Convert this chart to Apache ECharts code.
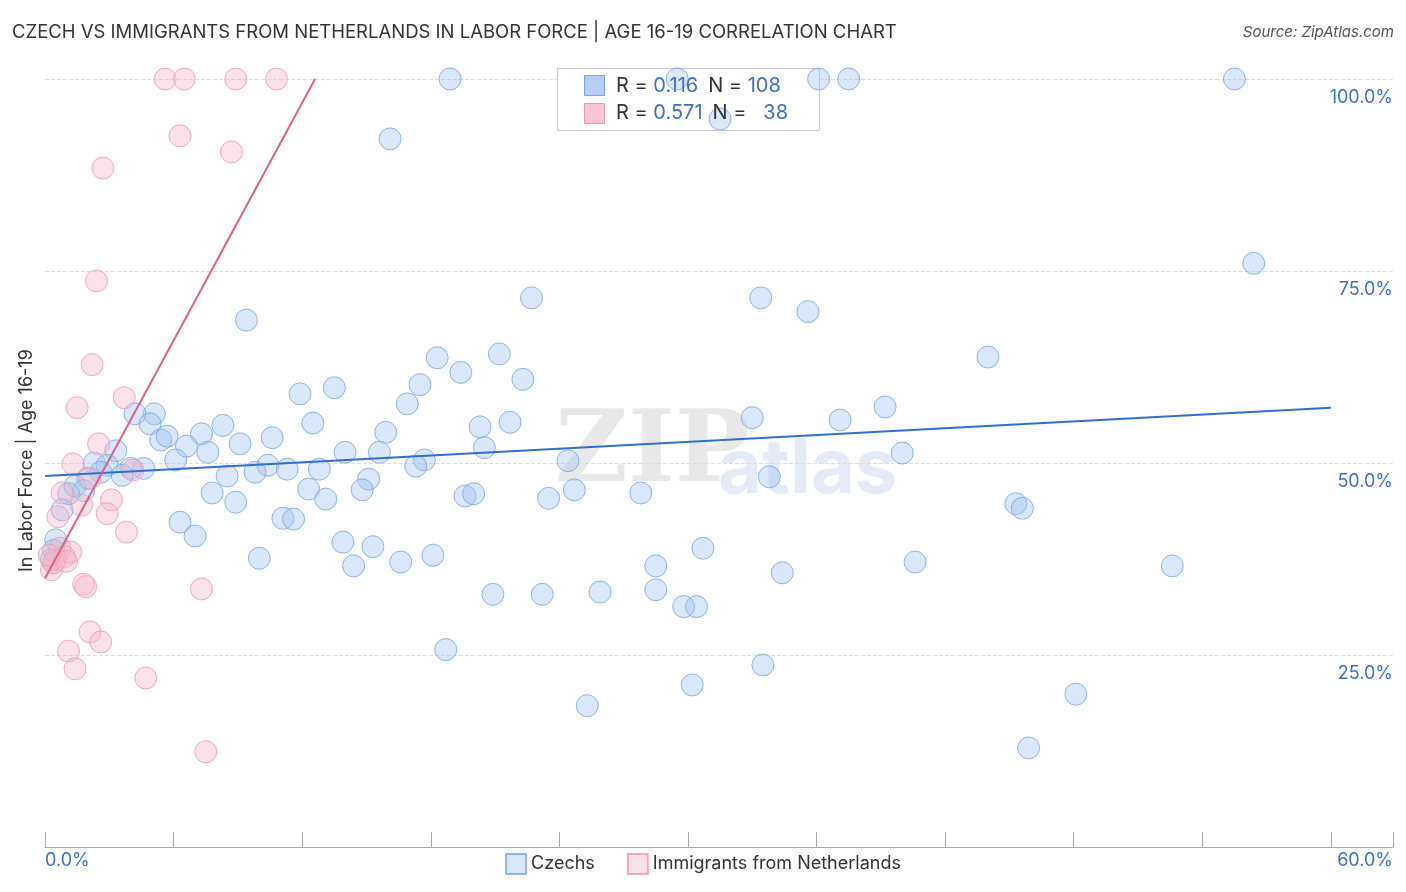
<!DOCTYPE html>
<html><head><meta charset="utf-8">
<script src="https://cdn.jsdelivr.net/npm/echarts@6/dist/echarts.min.js"></script>
<style>html,body{margin:0;padding:0;background:#fff}#chart{width:1406px;height:892px}</style>
</head><body><div id="chart"></div>
<script>
// [x %, y %]
const czechs = [
  [18.9,100],[29.5,100],[36.1,100],[37.5,100],[55.5,100],[31.5,94.8],[16.1,92.2],[56.4,76.0],
  [9.4,68.6],[22.7,71.5],[33.4,71.5],[35.6,69.7],[44.0,63.8],[18.3,63.7],[21.2,64.2],[19.4,61.8],
  [17.5,60.2],[22.3,60.9],[13.5,59.8],[11.9,59.0],[16.9,57.7],[5.1,56.4],[4.2,56.4],[4.9,55.1],
  [12.5,55.2],[8.3,54.9],[15.9,54.0],[20.3,54.7],[21.7,55.3],[33.0,55.9],[37.1,55.6],[39.2,57.3],
  [5.4,53.0],[5.7,53.5],[7.3,53.8],[10.6,53.3],[6.6,52.2],[9.1,52.5],[7.6,51.4],[14.0,51.4],
  [15.6,51.4],[20.5,52.0],[40.0,51.3],[3.3,51.6],[6.1,50.4],[2.3,50.0],[2.9,49.7],[10.4,49.7],
  [4.6,49.3],[4.0,49.3],[11.3,49.2],[12.8,49.2],[17.7,50.4],[17.3,49.6],[24.4,50.3],[2.6,48.8],
  [3.6,48.4],[2.0,48.0],[8.5,48.3],[9.8,48.8],[15.1,47.9],[33.8,48.2],[1.4,47.0],[1.8,46.4],
  [1.1,46.0],[7.8,46.1],[12.3,46.6],[24.7,46.5],[14.8,46.5],[19.6,45.7],[20.0,46.0],[23.5,45.4],
  [27.8,46.1],[13.1,45.3],[8.9,44.9],[0.8,43.9],[45.3,44.7],[45.6,44.1],[11.1,42.8],[11.6,42.7],
  [6.3,42.3],[7.0,40.5],[0.5,40.0],[13.9,39.7],[15.3,39.1],[30.7,38.9],[18.1,38.0],[10.0,37.6],
  [16.6,37.1],[14.4,36.6],[28.5,36.6],[40.6,37.1],[52.6,36.6],[0.3,37.4],[34.4,35.7],[20.9,32.9],
  [23.2,32.9],[25.9,33.2],[28.5,33.5],[29.8,31.3],[30.4,31.3],[18.7,25.7],[33.5,23.7],[30.2,21.1],
  [48.1,19.9],[25.3,18.4],[45.9,12.9],[0.4,38.6]
];
const immigrants = [
  [5.6,100],[6.5,100],[8.9,100],[10.8,100],[6.3,92.6],[8.7,90.5],[2.7,88.4],[2.4,73.7],
  [2.2,62.8],[3.7,58.5],[1.5,57.2],[2.5,52.5],[1.3,49.9],[4.1,49.1],[2.1,48.0],[0.8,46.1],
  [3.1,45.2],[1.7,44.5],[2.9,43.4],[0.6,43.0],[3.8,41.0],[0.7,38.9],[1.2,38.4],[0.5,37.4],
  [0.9,37.8],[0.3,36.1],[1.8,34.2],[1.9,33.9],[7.3,33.6],[2.1,28.0],[2.6,26.7],[1.1,25.5],
  [1.4,23.2],[4.7,22.0],[7.5,12.4],[0.4,37.0],[1.0,37.2],[0.2,38.0]
];
const czechTrend = [[0,48.3],[60,57.2]];
const immTrend = [[0,35.0],[12.6,100]];
const yTicks = [25,50,75,100];

const blue = '#3d72c8';
const chart = echarts.init(document.getElementById('chart'));
chart.setOption({
  animation: false,
  grid: {left: 45, right: 13, top: 79, bottom: 45},
  xAxis: {
    type: 'value', min: 0, max: 62.9, interval: 6,
    axisLine: {lineStyle: {color: '#aaa'}},
    axisTick: {inside: true, length: 15, lineStyle: {color: '#aaa'}},
    axisLabel: {show: false},
    splitLine: {show: false}
  },
  yAxis: {
    type: 'value', min: 0, max: 100, interval: 25, position: 'right',
    axisLine: {show: false}, axisTick: {show: false},
    axisLabel: {inside: true, verticalAlign: 'top', margin: 0, padding: [10, 0, 0, 0],
      color: blue, fontSize: 18, fontFamily: 'Inter',
      formatter: v => yTicks.includes(v) ? v.toFixed(1) + '%' : ''},
    splitLine: {lineStyle: {color: '#ddd', type: 'dashed'}}
  },
  legend: {
    bottom: 12, left: 'center', itemWidth: 20, itemHeight: 20, itemGap: 32, icon: 'rect',
    textStyle: {fontSize: 18, color: '#333', fontFamily: 'Inter'},
    data: ['Czechs', 'Immigrants from Netherlands']
  },
  graphic: [
    {type: 'text', left: 12, top: 23, style: {text: 'CZECH VS IMMIGRANTS FROM NETHERLANDS IN LABOR FORCE | AGE 16-19 CORRELATION CHART', fontSize: 18.5, fill: '#333', fontFamily: 'Inter'}},
    {type: 'text', right: 12, top: 25, style: {text: 'Source: ZipAtlas.com', fontSize: 15, fill: '#555', fontStyle: 'italic', fontFamily: 'Inter'}},
    {type: 'text', left: 45, top: 852, style: {text: '0.0%', fontSize: 18, fill: blue, fontFamily: 'Inter'}},
    {type: 'text', right: 13, top: 852, style: {text: '60.0%', fontSize: 18, fill: blue, fontFamily: 'Inter'}},
    {type: 'text', x: 18, y: 572, rotation: Math.PI / 2, style: {text: 'In Labor Force | Age 16-19', fontSize: 18, fill: '#333', fontFamily: 'Inter'}},
    {type: 'text', left: 555, top: 405, z: 0, style: {text: 'ZIP', fontSize: 100, fill: 'rgba(0,0,0,0.09)', fontFamily: 'DejaVu Serif', fontWeight: 'bold'}},
    {type: 'text', left: 718, top: 432, z: 0, style: {text: 'atlas', fontSize: 76, fill: 'rgba(61,114,200,0.14)', fontFamily: 'Inter', fontWeight: 'bold'}},
    {type: 'rect', left: 557, top: 68, z: 1, shape: {width: 262, height: 62}, style: {fill: '#fff', stroke: '#ccc'}},
    {type: 'rect', left: 584, top: 75, z: 101, shape: {width: 20, height: 20}, style: {fill: '#b5cff4', stroke: '#7aa5e0'}},
    {type: 'rect', left: 584, top: 103, z: 101, shape: {width: 20, height: 20}, style: {fill: '#fac6d6', stroke: '#eb9ab4'}},
    {type: 'text', left: 616, top: 76, z: 101, style: {rich: {a: {fill: '#333', fontSize: 20, fontFamily: 'Inter'}, b: {fill: blue, fontSize: 20, fontFamily: 'Inter'}}, text: '{a|R = }{b|0.116}   {a|N = }{b|108}'}},
    {type: 'text', left: 616, top: 103, z: 101, style: {rich: {a: {fill: '#333', fontSize: 20, fontFamily: 'Inter'}, b: {fill: blue, fontSize: 20, fontFamily: 'Inter'}}, text: '{a|R = }{b|0.571}   {a|N = }{b|  38}'}}
  ],
  series: [
    {name: 'Czechs', type: 'scatter', data: czechs, symbolSize: 22, z: 3,
      itemStyle: {color: 'rgba(160,195,240,0.5)', borderColor: '#7aa5e0', borderWidth: 1}},
    {name: 'Immigrants from Netherlands', type: 'scatter', data: immigrants, symbolSize: 22, z: 3,
      itemStyle: {color: 'rgba(246,180,200,0.5)', borderColor: '#eb9ab4', borderWidth: 1}},
    {type: 'line', data: czechTrend, symbol: 'none', lineStyle: {color: '#2f6fd0', width: 2}, z: 5},
    {type: 'line', data: immTrend, symbol: 'none', lineStyle: {color: '#e0608c', width: 2}, z: 5}
  ]
});
</script></body></html>
